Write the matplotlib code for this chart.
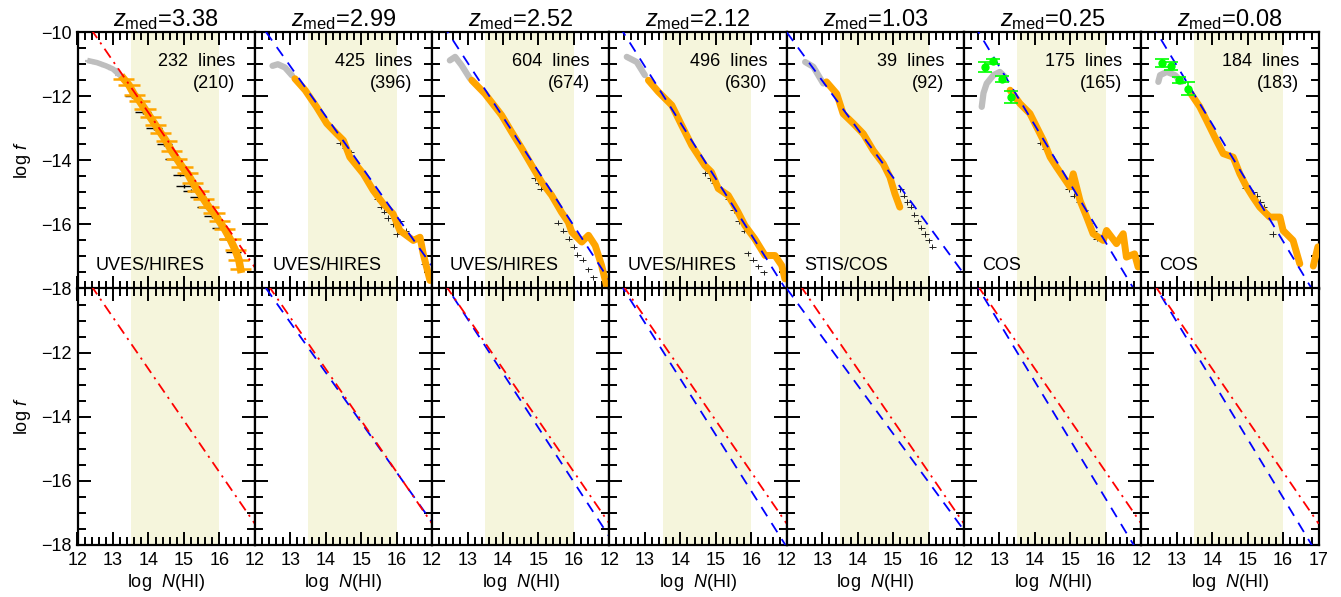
"""Column density distribution f(N_HI) of the Lyman-alpha forest in seven
redshift bins. Top row: measured CDDF with the power-law fit,
bottom row: the fit of each bin against the z=3.38 fit.
"""

import numpy as np
import matplotlib
matplotlib.use('Agg')
from matplotlib import pyplot as plt
from matplotlib.ticker import MultipleLocator

plt.rcParams['font.family'] = ['Liberation Sans', 'DejaVu Sans']
plt.rcParams['mathtext.fontset'] = 'custom'
plt.rcParams['mathtext.rm'] = 'Liberation Sans'
plt.rcParams['mathtext.it'] = 'Liberation Sans:italic'
plt.rcParams['mathtext.bf'] = 'Liberation Sans:bold'

##############
### inputs ###
##############

z_med = [3.38, 2.99, 2.52, 2.12, 1.03, 0.25, 0.08]
n_lines = [232, 425, 604, 496, 39, 175, 184]
n_used = [210, 396, 674, 630, 92, 165, 183]
instrument = ['UVES/HIRES', 'UVES/HIRES', 'UVES/HIRES', 'UVES/HIRES',
              'STIS/COS', 'COS', 'COS']

# power-law fits  log f = a - beta * log N
red_a, red_beta = 10.03, 1.61          # z = 3.38 bin
blue_a = [None, 9.22, 11.15, 11.68, 8.12, 12.71, 12.75]
blue_beta = [None, 1.56, 1.70, 1.75, 1.51, 1.83, 1.83]

# low column densities, incomplete (grey)
grey_logN = [[12.35, 12.55, 12.8, 13.0, 13.2],
             [12.5, 12.65, 12.85, 13.05],
             [12.5, 12.65, 12.83, 13.07],
             [12.49, 12.77, 13.0],
             [12.52, 12.75, 13.03],
             [12.50, 12.55, 12.64, 12.83, 13.01, 13.16],
             [12.48, 12.53, 12.72, 12.95, 13.14]]
grey_logf = [[-10.9, -10.95, -11.05, -11.15, -11.35],
             [-11.05, -11.0, -11.1, -11.35],
             [-10.88, -10.77, -11.03, -11.45],
             [-10.77, -10.93, -11.34],
             [-10.93, -11.08, -11.6],
             [-12.33, -11.9, -11.6, -11.34, -11.24, -11.4],
             [-11.55, -11.34, -11.24, -11.34, -11.55]]

# CDDF of the full sample (orange)
orange_logN = [[13.30, 13.45, 13.60, 13.75, 13.90, 14.05, 14.20, 14.35, 14.50,
                14.65, 14.80, 14.95, 15.10, 15.25, 15.40, 15.55, 15.70, 15.85,
                16.00, 16.15, 16.30, 16.45, 16.55, 16.60],
               [13.13, 13.42, 13.74, 14.03, 14.31, 14.50, 14.68, 15.06, 15.34,
                15.62, 15.90, 16.09, 16.47, 16.66, 16.75, 16.94],
               [13.12, 13.49, 13.96, 14.24, 14.53, 14.81, 15.09, 15.37, 15.65,
                15.84, 15.94, 16.22, 16.41, 16.60, 16.78, 16.92],
               [13.10, 13.38, 13.76, 14.04, 14.32, 14.69, 14.88, 15.07, 15.35,
                15.63, 15.82, 16.10, 16.39, 16.67, 16.86, 16.95],
               [13.12, 13.41, 13.59, 13.88, 14.16, 14.44, 14.72, 14.91, 15.05,
                15.19],
               [13.30, 13.58, 13.86, 14.05, 14.24, 14.43, 14.61, 14.80, 14.99,
                15.08, 15.27, 15.46, 15.64, 15.93, 16.02, 16.30, 16.49, 16.58,
                16.81, 16.91],
               [13.37, 13.65, 13.84, 14.12, 14.31, 14.59, 14.78, 14.97, 15.15,
                15.34, 15.62, 15.91, 16.0, 16.28, 16.47, np.nan, 16.85, 16.98]]
orange_logf = [[-11.45, -11.65, -11.95, -12.15, -12.40, -12.65, -12.90, -13.15,
                -13.40, -13.70, -13.95, -14.20, -14.40, -14.70, -14.95, -15.20,
                -15.45, -15.65, -15.90, -16.15, -16.45, -16.80, -17.10, -17.40],
               [-11.45, -11.81, -12.33, -12.85, -13.17, -13.38, -13.9, -14.42,
                -14.94, -15.35, -15.67, -16.19, -16.5, -16.4, -16.92, -17.75],
               [-11.5, -11.92, -12.59, -13.11, -13.63, -14.16, -14.68, -15.09,
                -15.62, -15.93, -16.24, -16.55, -16.34, -16.66, -17.28, -17.91],
               [-11.5, -11.86, -12.28, -12.91, -13.53, -14.16, -14.37, -14.88,
                -15.09, -15.62, -16.03, -16.45, -16.97, -16.97, -17.28, -17.70],
               [-11.55, -11.92, -12.54, -12.85, -13.17, -13.69, -14.10, -14.52,
                -15.04, -15.46],
               [-11.81, -12.23, -12.54, -12.96, -13.38, -13.90, -14.21, -14.52,
                -14.83, -14.42, -15.25, -15.77, -16.29, -16.5, -16.19, -16.6,
                -16.29, -17.02, -16.92, -17.33],
               [-11.87, -12.33, -12.75, -13.38, -13.79, -13.90, -14.42, -14.83,
                -15.15, -15.46, -15.77, -15.77, -16.19, -16.5, -17.23, np.nan,
                -17.3, -16.7]]

# CDDF of the sub-sample (black)
black_logN = [[13.55, 13.85, 14.15, 14.45, 14.7, 14.9, 15.0, 15.2, 15.4, 15.6,
               15.8, 16.0, 16.2, 16.4],
              [14.4, 14.55, 14.7, 15.45, 15.55, 15.65, 15.75, 15.9, 16.0, 16.1,
               16.25, 16.8, 16.9],
              [14.9, 15.0, 15.07, 15.55, 15.7, 15.85, 16.0, 16.1, 16.25, 16.4,
               16.55],
              [14.7, 14.85, 14.97, 15.35, 15.5, 15.65, 15.8, 15.9, 16.05, 16.2,
               16.35],
              [15.2, 15.3, 15.4, 15.5, 15.6, 15.7, 15.8, 15.9, 16.0, 16.1],
              [14.15, 14.3, 14.45, 14.95, 15.1, 15.25, 15.4, 15.55, 15.65,
               15.75],
              [14.95, 15.05, 15.15, 15.25, 15.35, 15.45, 15.7]]
black_logf = [[-12.0, -12.5, -13.0, -13.5, -13.95, -14.45, -14.8, -14.95,
               -15.15, -15.45, -15.75, -16.1, -16.45, -16.85],
              [-13.45, -13.6, -13.75, -15.2, -15.45, -15.6, -15.8, -16.0, -16.3,
               -15.9, -16.2, -17.25, -17.45],
              [-14.56, -14.7, -14.88, -15.95, -16.2, -16.45, -16.7, -16.95,
               -17.1, -17.4, -17.65],
              [-14.4, -14.55, -14.7, -15.2, -15.55, -15.9, -16.2, -16.9, -17.1,
               -17.3, -17.5],
              [-14.9, -15.1, -15.3, -15.45, -15.7, -15.9, -16.1, -16.3, -16.5,
               -16.7],
              [-13.45, -13.65, -13.85, -14.9, -15.1, -15.3, -15.55, -15.95,
               -16.2, -16.45],
              [-14.85, -14.95, -15.0, -15.1, -15.3, -15.45, -16.3]]

# low-z literature points (green), only for the two lowest bins
green_logN = {5: [12.59, 12.83, 13.06, 13.32], 6: [12.58, 12.83, 13.06, 13.32]}
green_logf = {5: [-11.08, -10.91, -11.47, -12.02], 6: [-10.96, -11.05, -11.5, -11.76]}
green_yerr = {5: [0.16, 0.08, 0.1, 0.2], 6: [0.13, 0.12, 0.1, 0.21]}

nmin_fit, nmax_fit = 13.5, 16.0

############
### MAIN ###
############

fig = plt.figure(figsize=(13.41, 5.97), dpi=100)
x0, w = 77.5 / 1341., 177.3 / 1341.
h = 256.3 / 597.
y_top, y_bot = (597 - 288.5) / 597., (597 - 544.8) / 597.

logN_line = np.array([12., 17.])
red_dash = (6, 3, 1.2, 3)
blue_dash = (6, 4.5)


def style_axes(ax):
    ax.set_xlim(12, 17)
    ax.set_ylim(-18, -10)
    ax.xaxis.set_major_locator(MultipleLocator(1))
    ax.xaxis.set_minor_locator(MultipleLocator(0.2))
    ax.yaxis.set_major_locator(MultipleLocator(2))
    ax.yaxis.set_minor_locator(MultipleLocator(0.5))
    ax.tick_params(which='both', direction='in', top=True, right=True,
                   width=1.4, labelsize=13)
    ax.tick_params(which='major', length=9.5)
    ax.tick_params(which='minor', length=5.5)
    ax.tick_params(axis='y', pad=4)
    ax.tick_params(axis='x', pad=5)
    for s in ax.spines.values():
        s.set_linewidth(1.6)
    ax.axvspan(nmin_fit, nmax_fit, color='#F5F5DC', lw=0, zorder=0)


for i in range(7):
    left = x0 + i * w
    top = fig.add_axes([left, y_top, w, h])
    bot = fig.add_axes([left, y_bot, w, h])
    style_axes(top)
    style_axes(bot)

    # top row: data
    if i == 0:
        top.errorbar(grey_logN[i], grey_logf[i], xerr=0.15, yerr=0.05,
                     fmt='none', ecolor='#BEBEBE', elinewidth=1.6, zorder=2)
        top.plot(grey_logN[i], grey_logf[i], color='#BEBEBE', lw=4, zorder=2)
        top.errorbar(black_logN[i], black_logf[i], xerr=0.22, yerr=0.05,
                     fmt='none', ecolor='black', elinewidth=1.0, zorder=2)
        top.errorbar(orange_logN[i], orange_logf[i], xerr=0.3, yerr=0.06,
                     fmt='none', ecolor='#FFA500', elinewidth=1.8, zorder=3)
        top.plot(orange_logN[i], orange_logf[i], color='#FFA500', lw=5.5,
                 zorder=3)
    else:
        top.plot(grey_logN[i], grey_logf[i], color='#BEBEBE', lw=4.5,
                 solid_capstyle='round', solid_joinstyle='round', zorder=2)
        top.errorbar(black_logN[i], black_logf[i], xerr=0.1, yerr=0.08,
                     fmt='none', ecolor='#222222', elinewidth=0.7, zorder=2)
        top.plot(orange_logN[i], orange_logf[i], color='#FFA500', lw=5,
                 solid_capstyle='round', solid_joinstyle='round', zorder=3)
    if i in green_logN:
        top.errorbar(green_logN[i], green_logf[i], yerr=green_yerr[i],
                     fmt='o', ms=5, color='#00FF00', ecolor='#00FF00',
                     elinewidth=1.2, capsize=5, capthick=1.2, zorder=5)

    red = red_a - red_beta * logN_line
    if i == 0:
        top.plot(logN_line, red, color='red', lw=1.3, dashes=red_dash,
                 zorder=4)
        bot.plot(logN_line, red, color='red', lw=1.3, dashes=red_dash,
                 zorder=4)
    else:
        blue = blue_a[i] - blue_beta[i] * logN_line
        top.plot(logN_line, blue, color='blue', lw=1.3, dashes=blue_dash,
                 zorder=4)
        bot.plot(logN_line, blue, color='blue', lw=1.3, dashes=blue_dash,
                 zorder=3)
        bot.plot(logN_line, red, color='red', lw=1.3, dashes=red_dash,
                 zorder=4)

    top.set_title(r'$z_{\rm med}$=%.2f' % z_med[i], fontsize=17, pad=4)
    top.text(0.89, 0.885, '%d  lines' % n_lines[i], transform=top.transAxes,
             ha='right', va='center', fontsize=13)
    top.text(0.89, 0.8, '(%d)' % n_used[i], transform=top.transAxes,
             ha='right', va='center', fontsize=13)
    top.text(0.1, 0.09, instrument[i], transform=top.transAxes,
             ha='left', va='center', fontsize=13)

    top.set_xticklabels([])
    bot.set_xticks([12, 13, 14, 15, 16, 17])
    if i == 6:
        bot.set_xticklabels(['12', '13', '14', '15', '16', '17'])
    else:
        bot.set_xticklabels(['12', '13', '14', '15', '16', ''])
    bot.set_xlabel(r'log  $N$(HI)', fontsize=13, labelpad=2)

    if i == 0:
        top.set_yticks([-18, -16, -14, -12, -10])
        top.set_yticklabels(['\u221218', '\u221216', '\u221214', '\u221212',
                             '\u221210'])
        bot.set_yticks([-18, -16, -14, -12, -10])
        bot.set_yticklabels(['\u221218', '\u221216', '\u221214', '\u221212',
                             ''])
        top.set_ylabel(r'log $f$', fontsize=13, labelpad=6)
        bot.set_ylabel(r'log $f$', fontsize=13, labelpad=6)
    else:
        top.set_yticklabels([])
        bot.set_yticklabels([])

fig.savefig('out.png', dpi=100)
